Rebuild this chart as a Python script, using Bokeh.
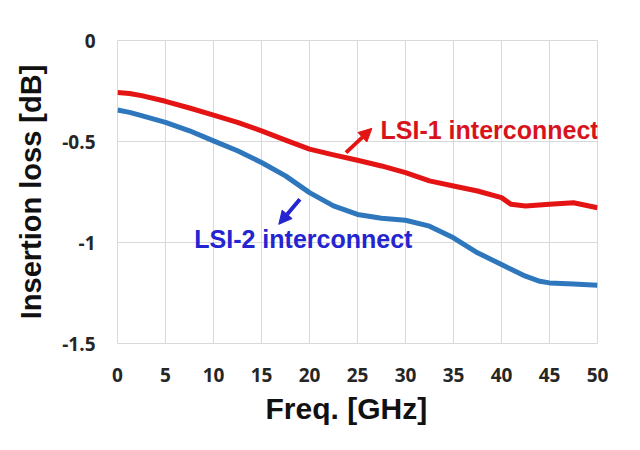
from bokeh.plotting import figure
from bokeh.models import Range1d, FixedTicker, Arrow, NormalHead, Label, Title
from bokeh.embed import file_html
from bokeh.resources import INLINE

# ---- data ----
freq_lsi1 = [0, 1.25, 2.5, 5, 7.5, 10, 12.5, 15, 17.5, 20, 22.5, 25, 27.5, 30,
             32.5, 35, 37.5, 40, 41, 42.5, 45, 47.5, 50]
loss_lsi1 = [-0.257, -0.262, -0.273, -0.301, -0.334, -0.369, -0.405, -0.447,
             -0.493, -0.538, -0.566, -0.593, -0.621, -0.654, -0.695, -0.720,
             -0.745, -0.778, -0.811, -0.819, -0.811, -0.803, -0.828]

freq_lsi2 = [0, 1.25, 2.5, 5, 7.5, 10, 12.5, 15, 17.5, 20, 22.5, 25, 27.5, 30,
             32.5, 35, 37.5, 40, 42.5, 44, 45, 47.5, 50]
loss_lsi2 = [-0.344, -0.356, -0.372, -0.405, -0.447, -0.497, -0.546, -0.604,
             -0.670, -0.753, -0.819, -0.861, -0.880, -0.890, -0.919, -0.977,
             -1.051, -1.109, -1.167, -1.192, -1.200, -1.205, -1.212]

x_ticks = [0, 5, 10, 15, 20, 25, 30, 35, 40, 45, 50]
y_ticks = [0, -0.5, -1.0, -1.5]
y_tick_labels = ["0", "-0.5", "-1", "-1.5"]

x_title = "Freq. [GHz]"
y_title = "Insertion loss [dB]"
label_lsi1 = "LSI-1 interconnect"
label_lsi2 = "LSI-2 interconnect"
# annotation anchors (data coords)
lsi1_text_pos = (27.4, -0.443)
lsi2_text_pos = (8.0, -0.985)
lsi1_arrow = (23.8, -0.555, 26.5, -0.435)
lsi2_arrow = (19.0, -0.786, 16.8, -0.910)

RED = "#e41414"
RED_TEXT = "#d7141e"
BLUE = "#2f77bd"
BLUE_TEXT = "#2424d0"
GRID = "#d9d9d9"

p = figure(width=624, height=434, output_backend="svg", toolbar_location=None,
           x_range=Range1d(0, 50), y_range=Range1d(-1.5, 0),
           min_border_left=117, min_border_right=27, min_border_top=40,
           min_border_bottom=91)
p.background_fill_color = "white"
p.border_fill_color = "white"
p.outline_line_color = GRID
p.outline_line_width = 1

p.xaxis.ticker = FixedTicker(ticks=x_ticks)
p.yaxis.ticker = FixedTicker(ticks=y_ticks)
p.yaxis.major_label_overrides = {t: s for t, s in zip(y_ticks, y_tick_labels)}

for ax in (p.xaxis[0], p.yaxis[0]):
    ax.axis_line_color = None
    ax.major_tick_line_color = None
    ax.minor_tick_line_color = None
    ax.major_tick_out = 0
    ax.major_tick_in = 0
    ax.major_label_text_font = "Open Sans"
    ax.major_label_text_font_style = "bold"
    ax.major_label_text_font_size = "19px"
    ax.major_label_text_color = "#262626"
    ax.axis_label_text_font = "Liberation Sans"
    ax.axis_label_text_font_style = "bold"
    ax.axis_label_text_font_size = "29px"
    ax.axis_label_text_color = "#111111"

p.yaxis.axis_label = y_title
p.xaxis.major_label_standoff = 24
p.yaxis.major_label_standoff = 22
p.yaxis.axis_label_standoff = 12

p.add_layout(Title(text=x_title, align="left", offset=148, standoff=11,
                   text_font="Liberation Sans", text_font_style="bold",
                   text_font_size="30px", text_color="#111111"), "below")

p.xgrid.grid_line_color = GRID
p.ygrid.grid_line_color = GRID
p.xgrid.grid_line_width = 1
p.ygrid.grid_line_width = 1

p.line(freq_lsi2, loss_lsi2, line_color=BLUE, line_width=5, line_join="round")
p.line(freq_lsi1, loss_lsi1, line_color=RED, line_width=5, line_join="round")

p.add_layout(Label(x=lsi1_text_pos[0], y=lsi1_text_pos[1], text=label_lsi1,
                   text_font="Liberation Sans", text_font_style="bold",
                   text_font_size="25px", text_color=RED_TEXT,
                   text_baseline="middle", text_align="left"))
p.add_layout(Label(x=lsi2_text_pos[0], y=lsi2_text_pos[1], text=label_lsi2,
                   text_font="Liberation Sans", text_font_style="bold",
                   text_font_size="25px", text_color=BLUE_TEXT,
                   text_baseline="middle", text_align="left"))

p.add_layout(Arrow(end=NormalHead(size=13, fill_color=RED, line_color=RED),
                   x_start=lsi1_arrow[0], y_start=lsi1_arrow[1],
                   x_end=lsi1_arrow[2], y_end=lsi1_arrow[3],
                   line_color=RED, line_width=4))
p.add_layout(Arrow(end=NormalHead(size=13, fill_color=BLUE_TEXT, line_color=BLUE_TEXT),
                   x_start=lsi2_arrow[0], y_start=lsi2_arrow[1],
                   x_end=lsi2_arrow[2], y_end=lsi2_arrow[3],
                   line_color=BLUE_TEXT, line_width=4))

open("out.html", "w").write(file_html(p, INLINE))
